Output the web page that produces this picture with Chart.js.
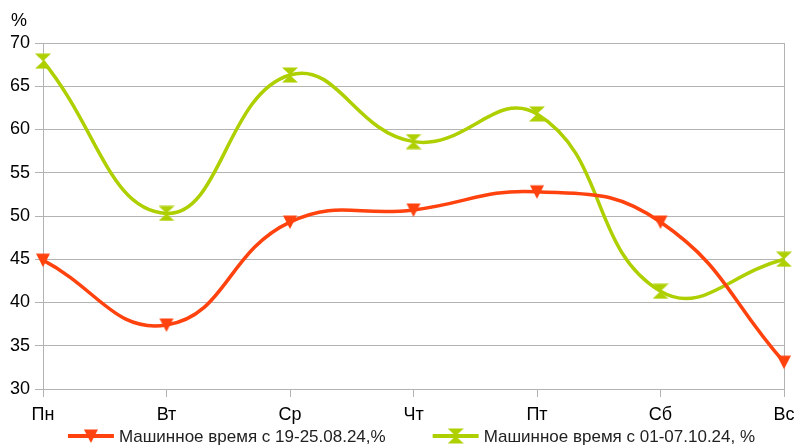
<!DOCTYPE html>
<html>
<head>
<meta charset="utf-8">
<script src="https://cdn.jsdelivr.net/npm/chart.js@4.4.1/dist/chart.umd.min.js"></script>
<style>
  html, body { margin: 0; padding: 0; background: #fff; }
  #wrap { width: 795px; height: 445px; }
</style>
</head>
<body>
<div id="wrap"><canvas id="machineChart" width="795" height="445"></canvas></div>
<script>
const days = ['Пн', 'Вт', 'Ср', 'Чт', 'Пт', 'Сб', 'Вс'];
const augustLabel = 'Машинное время с 19-25.08.24,%';
const augustValues = [44.9, 37.4, 49.3, 50.7, 52.8, 49.3, 33.1];
const octoberLabel = 'Машинное время с 01-07.10.24, %';
const octoberValues = [67.9, 50.3, 66.3, 58.6, 61.8, 41.3, 45.0];
const yTicks = [30, 35, 40, 45, 50, 55, 60, 65, 70];
const unitLabel = '%';

const FONT = '"Liberation Sans", Arial, sans-serif';
const GRID = '#b3b3b3';
const RED = '#ff420e';
const GREEN = '#aecf00';

// marker images (LibreOffice style symbols)
function makeMarker(color, shape) {
  const c = document.createElement('canvas');
  c.width = 16; c.height = 16;
  const g = c.getContext('2d');
  g.fillStyle = color;
  g.beginPath();
  if (shape === 'hourglass') {
    g.moveTo(0, 0.5); g.lineTo(16, 0.5); g.lineTo(8, 8); g.closePath();
    g.moveTo(8, 8); g.lineTo(16, 15.5); g.lineTo(0, 15.5); g.closePath();
  } else {
    g.moveTo(1, 1.5); g.lineTo(15, 1.5); g.lineTo(8, 15); g.closePath();
  }
  g.fill();
  return c;
}
const redMarker = makeMarker(RED, 'down');
const greenMarker = makeMarker(GREEN, 'hourglass');

// legend drawn under the x axis: line + marker + text
const bottomLegend = {
  id: 'bottomLegend',
  afterDraw(chart) {
    const ctx = chart.ctx;
    ctx.save();
    ctx.font = '17px ' + FONT;
    const lineLen = 46, gapText = 5, gapItem = 47;
    const items = chart.data.datasets.map(ds => ({
      ds: ds,
      w: lineLen + gapText + ctx.measureText(ds.label).width
    }));
    const total = items.reduce((s, it) => s + it.w, 0) + gapItem * (items.length - 1);
    let x = (chart.chartArea.left + chart.chartArea.right) / 2 - total / 2 - 2;
    const y = chart.height - 9;
    items.forEach(it => {
      ctx.strokeStyle = it.ds.borderColor;
      ctx.lineWidth = 4;
      ctx.beginPath();
      ctx.moveTo(x, y);
      ctx.lineTo(x + lineLen, y);
      ctx.stroke();
      const m = it.ds.pointStyle;
      ctx.drawImage(m, x + lineLen / 2 - m.width / 2, y - m.height / 2);
      ctx.fillStyle = '#222';
      ctx.textBaseline = 'middle';
      ctx.textAlign = 'left';
      ctx.fillText(it.ds.label, x + lineLen + gapText, y + 1);
      x += it.w + gapItem;
    });
    ctx.restore();
  }
};

// "%" above the value axis
const unitTitle = {
  id: 'unitTitle',
  afterDraw(chart) {
    const ctx = chart.ctx;
    ctx.save();
    ctx.font = '18px ' + FONT;
    ctx.fillStyle = '#000';
    ctx.textAlign = 'center';
    ctx.textBaseline = 'middle';
    ctx.fillText(unitLabel, 19, chart.chartArea.top - 22);
    ctx.restore();
  }
};

const lastIndex = days.length - 1;

new Chart(document.getElementById('machineChart'), {
  type: 'line',
  data: {
    labels: days,
    datasets: [{
      label: augustLabel,
      data: augustValues,
      borderColor: RED,
      backgroundColor: RED,
      borderWidth: 3.5,
      tension: 0.45,
      pointStyle: redMarker,
      pointRadius: 7,
      clip: false
    }, {
      label: octoberLabel,
      data: octoberValues,
      borderColor: GREEN,
      backgroundColor: GREEN,
      borderWidth: 3.5,
      tension: 0.45,
      pointStyle: greenMarker,
      pointRadius: 7,
      clip: false
    }]
  },
  options: {
    responsive: false,
    animation: false,
    devicePixelRatio: 1,
    layout: { padding: { top: 43, right: 0, bottom: 11, left: 0 } },
    plugins: {
      legend: { display: false },
      tooltip: { enabled: false }
    },
    scales: {
      x: {
        offset: false,
        grid: {
          color: ctx => (ctx.index === 0 || ctx.index === lastIndex) ? GRID : 'rgba(0,0,0,0)',
          tickColor: GRID,
          tickLength: 8
        },
        border: { color: GRID },
        ticks: {
          color: '#000',
          padding: 7,
          maxRotation: 0,
          font: { family: FONT, size: 18 }
        },
        afterFit: s => { s.height = 45; s.paddingRight = 11; s.paddingLeft = 0; }
      },
      y: {
        min: yTicks[0],
        max: yTicks[yTicks.length - 1],
        grid: { color: GRID, tickLength: 8 },
        border: { color: GRID },
        ticks: {
          stepSize: yTicks[1] - yTicks[0],
          color: '#000',
          padding: 5,
          font: { family: FONT, size: 18 }
        },
        afterFit: s => { s.width = 43; }
      }
    }
  },
  plugins: [bottomLegend, unitTitle]
});
</script>
</body>
</html>
